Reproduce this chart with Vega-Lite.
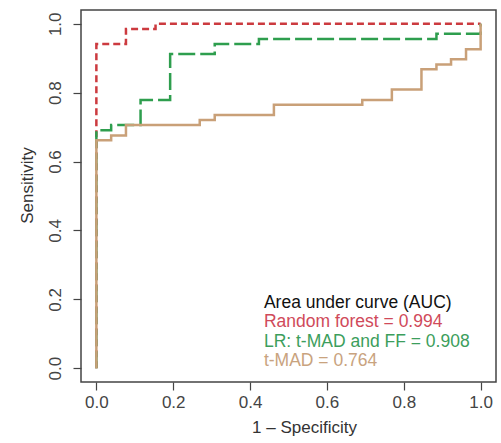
{
  "$schema": "https://vega.github.io/schema/vega-lite/v6.json",
  "width": 415,
  "height": 372,
  "autosize": {"type": "none"},
  "padding": {"left": 81, "top": 10, "right": 5, "bottom": 61},
  "background": "white",
  "config": {
    "view": {"stroke": "#444", "strokeWidth": 1.5},
    "font": "Liberation Sans",
    "axis": {
      "domain": false,
      "grid": false,
      "ticks": true,
      "tickColor": "#444",
      "tickWidth": 1.2,
      "tickSize": 8,
      "labelFont": "Liberation Sans",
      "labelFontSize": 17,
      "labelColor": "#444",
      "titleFont": "Liberation Sans",
      "titleFontSize": 17,
      "titleFontWeight": "normal",
      "titleColor": "#333"
    }
  },
  "datasets": {
    "roc": [
      {"series": "rf", "order": 1, "fpr": 0, "tpr": 0},
      {"series": "rf", "order": 2, "fpr": 0, "tpr": 0.941},
      {"series": "rf", "order": 3, "fpr": 0.077, "tpr": 0.941},
      {"series": "rf", "order": 4, "fpr": 0.077, "tpr": 0.985},
      {"series": "rf", "order": 5, "fpr": 0.154, "tpr": 0.985},
      {"series": "rf", "order": 6, "fpr": 0.154, "tpr": 1.0},
      {"series": "rf", "order": 7, "fpr": 1.0, "tpr": 1.0},

      {"series": "lr", "order": 1, "fpr": 0, "tpr": 0},
      {"series": "lr", "order": 2, "fpr": 0, "tpr": 0.691},
      {"series": "lr", "order": 3, "fpr": 0.0385, "tpr": 0.691},
      {"series": "lr", "order": 4, "fpr": 0.0385, "tpr": 0.706},
      {"series": "lr", "order": 5, "fpr": 0.115, "tpr": 0.706},
      {"series": "lr", "order": 6, "fpr": 0.115, "tpr": 0.779},
      {"series": "lr", "order": 7, "fpr": 0.192, "tpr": 0.779},
      {"series": "lr", "order": 8, "fpr": 0.192, "tpr": 0.912},
      {"series": "lr", "order": 9, "fpr": 0.308, "tpr": 0.912},
      {"series": "lr", "order": 10, "fpr": 0.308, "tpr": 0.941},
      {"series": "lr", "order": 11, "fpr": 0.423, "tpr": 0.941},
      {"series": "lr", "order": 12, "fpr": 0.423, "tpr": 0.956},
      {"series": "lr", "order": 13, "fpr": 0.885, "tpr": 0.956},
      {"series": "lr", "order": 14, "fpr": 0.885, "tpr": 0.971},
      {"series": "lr", "order": 15, "fpr": 1.0, "tpr": 0.971},
      {"series": "lr", "order": 16, "fpr": 1.0, "tpr": 1.0},

      {"series": "tmad", "order": 1, "fpr": 0, "tpr": 0},
      {"series": "tmad", "order": 2, "fpr": 0, "tpr": 0.662},
      {"series": "tmad", "order": 3, "fpr": 0.0385, "tpr": 0.662},
      {"series": "tmad", "order": 4, "fpr": 0.0385, "tpr": 0.676},
      {"series": "tmad", "order": 5, "fpr": 0.077, "tpr": 0.676},
      {"series": "tmad", "order": 6, "fpr": 0.077, "tpr": 0.706},
      {"series": "tmad", "order": 7, "fpr": 0.269, "tpr": 0.706},
      {"series": "tmad", "order": 8, "fpr": 0.269, "tpr": 0.721},
      {"series": "tmad", "order": 9, "fpr": 0.308, "tpr": 0.721},
      {"series": "tmad", "order": 10, "fpr": 0.308, "tpr": 0.735},
      {"series": "tmad", "order": 11, "fpr": 0.462, "tpr": 0.735},
      {"series": "tmad", "order": 12, "fpr": 0.462, "tpr": 0.765},
      {"series": "tmad", "order": 13, "fpr": 0.692, "tpr": 0.765},
      {"series": "tmad", "order": 14, "fpr": 0.692, "tpr": 0.779},
      {"series": "tmad", "order": 15, "fpr": 0.769, "tpr": 0.779},
      {"series": "tmad", "order": 16, "fpr": 0.769, "tpr": 0.809},
      {"series": "tmad", "order": 17, "fpr": 0.846, "tpr": 0.809},
      {"series": "tmad", "order": 18, "fpr": 0.846, "tpr": 0.868},
      {"series": "tmad", "order": 19, "fpr": 0.885, "tpr": 0.868},
      {"series": "tmad", "order": 20, "fpr": 0.885, "tpr": 0.882},
      {"series": "tmad", "order": 21, "fpr": 0.923, "tpr": 0.882},
      {"series": "tmad", "order": 22, "fpr": 0.923, "tpr": 0.897},
      {"series": "tmad", "order": 23, "fpr": 0.962, "tpr": 0.897},
      {"series": "tmad", "order": 24, "fpr": 0.962, "tpr": 0.926},
      {"series": "tmad", "order": 25, "fpr": 1.0, "tpr": 0.926},
      {"series": "tmad", "order": 26, "fpr": 1.0, "tpr": 1.0}
    ],
    "legend": [
      {"label": "Area under curve (AUC)", "lx": 0.436, "ly": 0.189, "col": "#111111"},
      {"label": "Random forest = 0.994", "lx": 0.436, "ly": 0.135, "col": "#d04a5a"},
      {"label": "LR: t-MAD and FF = 0.908", "lx": 0.436, "ly": 0.077, "col": "#3c9e5c"},
      {"label": "t-MAD = 0.764", "lx": 0.436, "ly": 0.021, "col": "#c9a37e"}
    ]
  },
  "layer": [
    {
      "data": {"name": "roc"},
      "transform": [{"filter": "datum.series === 'rf'"}],
      "mark": {"type": "line", "color": "#cc3a3f", "strokeWidth": 2.5, "strokeDash": [7, 4], "clip": true},
      "encoding": {
        "x": {"field": "fpr", "type": "quantitative", "scale": {"domain": [-0.04, 1.04], "nice": false, "zero": false},
              "axis": {"values": [0, 0.2, 0.4, 0.6, 0.8, 1.0], "format": ".1f", "title": "1 – Specificity", "labelPadding": 4, "titlePadding": 9, "titleX": 223}},
        "y": {"field": "tpr", "type": "quantitative", "scale": {"domain": [-0.04, 1.04], "nice": false, "zero": false},
              "axis": {"values": [0, 0.2, 0.4, 0.6, 0.8, 1.0], "format": ".1f", "title": "Sensitivity", "labelAngle": -90, "labelAlign": "center", "labelBaseline": "bottom", "labelPadding": 9, "titlePadding": 10, "titleY": 175}},
        "order": {"field": "order", "type": "quantitative"}
      }
    },
    {
      "data": {"name": "roc"},
      "transform": [{"filter": "datum.series === 'lr'"}],
      "mark": {"type": "line", "color": "#2e9e4e", "strokeWidth": 2.5, "strokeDash": [17, 5], "clip": true},
      "encoding": {
        "x": {"field": "fpr", "type": "quantitative"},
        "y": {"field": "tpr", "type": "quantitative"},
        "order": {"field": "order", "type": "quantitative"}
      }
    },
    {
      "data": {"name": "roc"},
      "transform": [{"filter": "datum.series === 'tmad'"}],
      "mark": {"type": "line", "color": "#c9a078", "strokeWidth": 2.5, "clip": true},
      "encoding": {
        "x": {"field": "fpr", "type": "quantitative"},
        "y": {"field": "tpr", "type": "quantitative"},
        "order": {"field": "order", "type": "quantitative"}
      }
    },
    {
      "data": {"name": "legend"},
      "mark": {"type": "text", "align": "left", "baseline": "middle", "fontSize": 17.5, "font": "Liberation Sans"},
      "encoding": {
        "x": {"field": "lx", "type": "quantitative"},
        "y": {"field": "ly", "type": "quantitative"},
        "text": {"field": "label"},
        "color": {"field": "col", "type": "nominal", "scale": null}
      }
    }
  ]
}
